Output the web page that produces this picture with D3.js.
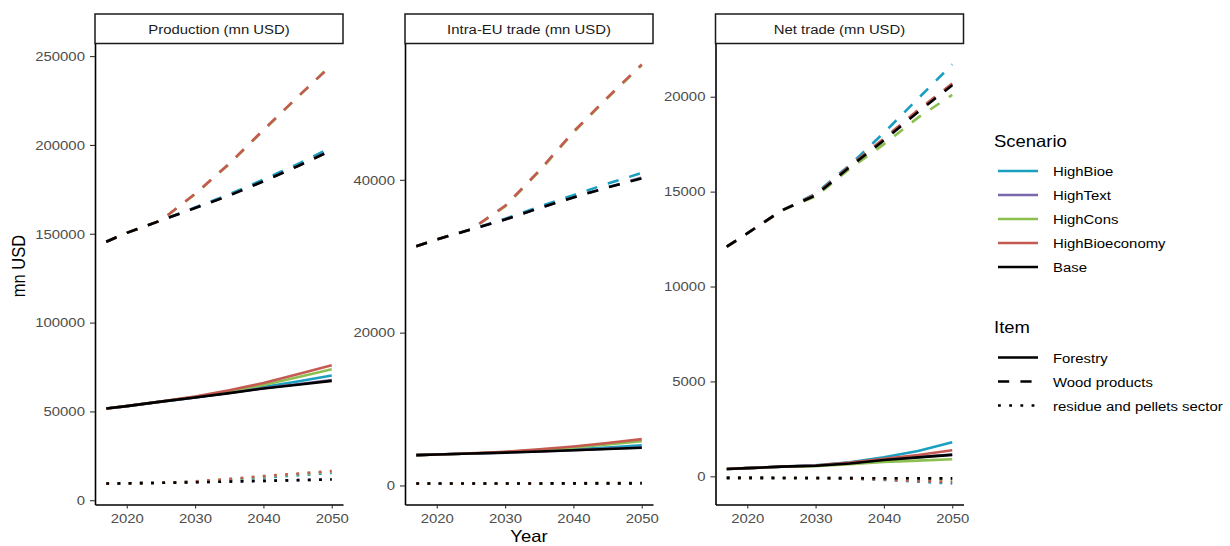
<!DOCTYPE html>
<html>
<head>
<meta charset="utf-8">
<script src="https://cdn.jsdelivr.net/npm/d3@7"></script>
<style>
  body { margin: 0; background: #fff; }
  text { font-family: "Liberation Sans", Arial, sans-serif; }
</style>
</head>
<body>
<svg id="chart" width="1230" height="546"></svg>
<script>
// ---- data -------------------------------------------------------------
const years = [2017, 2020, 2025, 2030, 2035, 2040, 2045, 2050];
const scenarios = ["HighBioe", "HighText", "HighCons", "HighBioeconomy", "Base"];
const items = ["Forestry", "Wood products", "residue and pellets sector"];
const panelTitles = ["Production (mn USD)", "Intra-EU trade (mn USD)", "Net trade (mn USD)"];

// rows follow the scenario order above
const prodForestry = [
  [51600, 53000, 55500, 57900, 60700, 63700, 66800, 70200],
  [51600, 53000, 55500, 57850, 60400, 63100, 65300, 67600],
  [51600, 53000, 55600, 58200, 61400, 64900, 69200, 73700],
  [51600, 53000, 55600, 58400, 61900, 66000, 70900, 76000],
  [51600, 53000, 55500, 57800, 60300, 62900, 65000, 67200]
];
const prodWood = [
  [145500, 150500, 157500, 164800, 172200, 180500, 189200, 198600],
  [145500, 150500, 157500, 164500, 171600, 179600, 188100, 197200],
  [145500, 150500, 157500, 172300, 189200, 208200, 226800, 245300],
  [145500, 150500, 157500, 172500, 189500, 208500, 227000, 245000],
  [145500, 150500, 157500, 164500, 171500, 179500, 188000, 197000]
];
const prodResidue = [
  [9400, 9500, 9800, 10400, 11500, 12700, 14000, 15400],
  [9400, 9500, 9800, 10100, 10500, 10900, 11300, 11800],
  [9400, 9500, 9800, 10500, 11800, 13200, 14600, 16000],
  [9400, 9500, 9800, 10600, 12000, 13600, 15000, 16500],
  [9400, 9500, 9800, 10100, 10500, 10900, 11300, 11700]
];

const intraForestry = [
  [3970, 4050, 4180, 4330, 4520, 4730, 4970, 5240],
  [3970, 4050, 4180, 4300, 4460, 4620, 4800, 4960],
  [3970, 4050, 4190, 4380, 4650, 4960, 5360, 5800],
  [3970, 4050, 4200, 4420, 4730, 5100, 5560, 6060],
  [3970, 4050, 4180, 4300, 4450, 4600, 4770, 4930]
];
const intraWood = [
  [31300, 32200, 33500, 34900, 36500, 38000, 39500, 40900],
  [31300, 32200, 33500, 34800, 36300, 37700, 39000, 40300],
  [31300, 32200, 33500, 36500, 41100, 46200, 50700, 55000],
  [31300, 32200, 33500, 36600, 41200, 46300, 50800, 55100],
  [31300, 32200, 33500, 34800, 36300, 37700, 39000, 40200]
];
const intraResidue = [
  [250, 250, 255, 262, 270, 280, 290, 300],
  [250, 250, 255, 260, 265, 270, 275, 280],
  [250, 250, 255, 265, 275, 290, 305, 320],
  [250, 250, 255, 265, 278, 295, 312, 330],
  [250, 250, 255, 260, 265, 270, 275, 280]
];

const netForestry = [
  [390, 430, 510, 580, 740, 1010, 1330, 1790],
  [390, 430, 510, 560, 690, 870, 1010, 1150],
  [390, 430, 505, 540, 640, 760, 830, 900],
  [390, 430, 510, 570, 720, 920, 1120, 1370],
  [390, 430, 510, 560, 680, 860, 1000, 1130]
];
const netWood = [
  [12100, 12800, 14000, 14900, 16400, 18100, 19900, 21700],
  [12100, 12800, 14000, 14800, 16300, 17750, 19250, 20650],
  [12100, 12800, 14000, 14750, 16200, 17500, 18900, 20100],
  [12100, 12800, 14000, 14850, 16350, 17800, 19300, 20700],
  [12100, 12800, 14000, 14800, 16300, 17700, 19200, 20600]
];
const netResidue = [
  [-80, -80, -85, -95, -120, -190, -280, -380],
  [-80, -80, -85, -90, -95, -105, -110, -115],
  [-80, -80, -85, -92, -105, -140, -170, -200],
  [-80, -80, -85, -95, -115, -170, -240, -310],
  [-80, -80, -85, -90, -95, -100, -105, -110]
];

const prodTicks = [0, 50000, 100000, 150000, 200000, 250000];
const intraTicks = [0, 20000, 40000];
const netTicks = [0, 5000, 10000, 15000, 20000];
const yearTicks = [2020, 2030, 2040, 2050];

// ---- styling ------------------------------------------------------------
const scenarioColors = ["#1a9fc0", "#7b67ac", "#8dbf50", "#c55a52", "#000000"];
const lineW = 2.6;
const itemDash = [null, `${4 * 2.8},${4 * 2.8}`, `${2.8},${3 * 2.8}`];
const SX = 1.12;           // horizontal text stretch
const smallFont = 13.3;
const titleFont = 16.5;
const textGrey = "#4d4d4d";

const panels = [
  { title: panelTitles[0], series: [prodForestry, prodWood, prodResidue], ticks: prodTicks, x0: 95, x1: 343 },
  { title: panelTitles[1], series: [intraForestry, intraWood, intraResidue], ticks: intraTicks, x0: 405, x1: 653 },
  { title: panelTitles[2], series: [netForestry, netWood, netResidue], ticks: netTicks, x0: 715.5, x1: 963.5 }
];
const plotTop = 43.5, plotBottom = 504.5, stripTop = 14;

const svg = d3.select("#chart");

function expand(ext) {
  const pad = (ext[1] - ext[0]) * 0.05;
  return [ext[0] - pad, ext[1] + pad];
}

const xExt = expand(d3.extent(years));

panels.forEach(p => {
  const all = p.series.flat(2);
  const y = d3.scaleLinear().domain(expand(d3.extent(all))).range([plotBottom, plotTop]);
  const x = d3.scaleLinear().domain(xExt).range([p.x0, p.x1]);
  const g = svg.append("g");

  // strip
  g.append("rect")
    .attr("x", p.x0).attr("y", stripTop)
    .attr("width", p.x1 - p.x0).attr("height", plotTop - stripTop)
    .attr("fill", "#fff").attr("stroke", "#1a1a1a").attr("stroke-width", 1.5);
  g.append("text")
    .attr("transform", `translate(${(p.x0 + p.x1) / 2},${stripTop + 20}) scale(${SX},1)`)
    .attr("text-anchor", "middle")
    .attr("font-size", smallFont)
    .attr("fill", "#1a1a1a")
    .text(p.title);

  // lines
  const line = d3.line().x((d, i) => x(years[i])).y(d => y(d));
  scenarios.forEach((s, si) => {
    items.forEach((it, ii) => {
      g.append("path")
        .datum(p.series[ii][si])
        .attr("d", line)
        .attr("fill", "none")
        .attr("stroke", scenarioColors[si])
        .attr("stroke-width", lineW)
        .attr("stroke-dasharray", itemDash[ii])
        .attr("stroke-linecap", "butt");
    });
  });

  // axes
  const ax = g.append("g").attr("transform", `translate(${p.x0},0)`)
    .call(d3.axisLeft(y).tickValues(p.ticks).tickFormat(d3.format("d")).tickSize(5).tickSizeOuter(0).tickPadding(4));
  const bx = g.append("g").attr("transform", `translate(0,${plotBottom})`)
    .call(d3.axisBottom(x).tickValues(yearTicks).tickFormat(d3.format("d")).tickSize(4).tickSizeOuter(0).tickPadding(5));
  [ax, bx].forEach(a => {
    a.select(".domain").attr("stroke", "#000").attr("stroke-width", 1.6);
    a.selectAll(".tick line").attr("stroke", "#333").attr("stroke-width", 1.1);
    a.selectAll(".tick text")
      .attr("fill", textGrey)
      .attr("font-size", smallFont)
      .attr("font-family", "Liberation Sans, Arial, sans-serif")
      .attr("transform", `scale(${SX},1)`);
  });
});

// axis titles
svg.append("text")
  .attr("transform", `translate(25,266) scale(${SX},1) rotate(-90)`)
  .attr("text-anchor", "middle")
  .attr("font-size", titleFont)
  .text("mn USD");
svg.append("text")
  .attr("transform", `translate(529,542) scale(${SX},1)`)
  .attr("text-anchor", "middle")
  .attr("font-size", titleFont)
  .text("Year");

// legends
const leg = svg.append("g");
leg.append("text")
  .attr("transform", `translate(994,147) scale(${SX},1)`)
  .attr("font-size", titleFont)
  .text("Scenario");
scenarios.forEach((s, i) => {
  const yy = 171 + i * 24;
  leg.append("line").attr("x1", 998).attr("x2", 1038).attr("y1", yy).attr("y2", yy)
    .attr("stroke", scenarioColors[i]).attr("stroke-width", lineW);
  leg.append("text")
    .attr("transform", `translate(1053,${yy + 5}) scale(${SX},1)`)
    .attr("font-size", smallFont)
    .text(s);
});
leg.append("text")
  .attr("transform", `translate(994,333) scale(${SX},1)`)
  .attr("font-size", titleFont)
  .text("Item");
items.forEach((it, i) => {
  const yy = 357.5 + i * 24;
  leg.append("line").attr("x1", 998).attr("x2", 1038).attr("y1", yy).attr("y2", yy)
    .attr("stroke", "#000").attr("stroke-width", lineW)
    .attr("stroke-dasharray", itemDash[i]);
  leg.append("text")
    .attr("transform", `translate(1053,${yy + 5}) scale(${SX},1)`)
    .attr("font-size", smallFont)
    .text(it);
});
</script>
</body>
</html>
